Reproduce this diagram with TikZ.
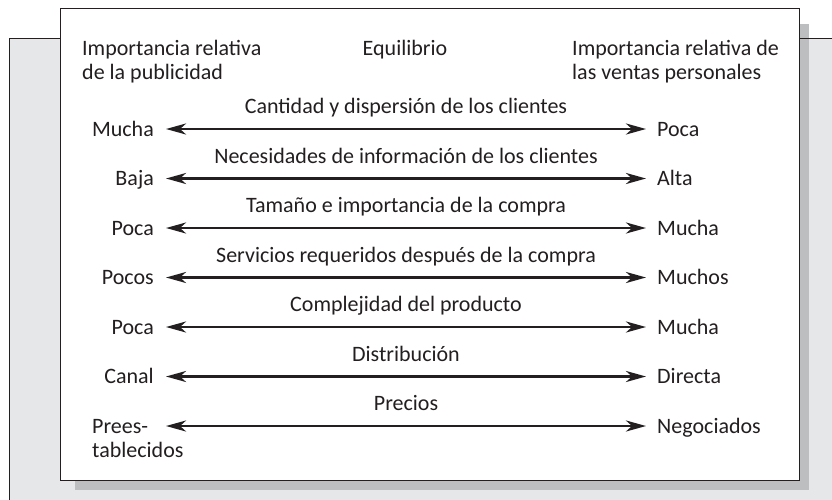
\documentclass[tikz,border=0pt]{standalone}
\usepackage{fontspec}
\setmainfont{Carlito}
\usetikzlibrary{arrows.meta,positioning}
\definecolor{myink}{RGB}{35,31,32}
\definecolor{mypanel}{RGB}{230,231,232}
\definecolor{myshade}{RGB}{188,190,192}

\tikzset{
    lbl/.style={inner sep=0pt, text height=16pt, text depth=2pt, text=myink, font=\fontsize{22}{24}\selectfont},
    hdr/.style={inner sep=0pt, align=left, text=myink, font=\fontsize{22}{24}\selectfont},
    twoway/.style={<->, >={Stealth[length=20pt, width=11pt, inset=6pt]}, line width=2.6pt, draw=myink}
}

\begin{document}
\begin{tikzpicture}[x=1pt, y=-1pt]

% Page frame.
\useasboundingbox (0,0) rectangle (832,499);
\clip (0,0) rectangle (832,499);

% Back panel, shadow and front box.
\fill[mypanel] (9.5,38.5) rectangle (850,520);
\fill[myshade] (75,24) rectangle (809,490);
\draw[myink, line width=1.5pt] (9.5,520) -- (9.5,38.5) -- (850,38.5);
\draw[myink, line width=1.5pt, fill=white] (60.5,8.5) rectangle (799.5,480.5);

% Headers (base = last line).
\node[hdr, anchor=base west] (pub) at (82,79) {Importancia relativa\\de la publicidad};
\node[hdr, anchor=base] (eq) at (405,55) {Equilibrio};
\node[hdr, anchor=base west] (vp) at (572,79) {Importancia relativa de\\las ventas personales};

% Arrow ends.
\coordinate (A1) at (166,129);   \coordinate (B1) at (646,129);
\coordinate (A2) at (166,178.5); \coordinate (B2) at (646,178.5);
\coordinate (A3) at (166,228);   \coordinate (B3) at (646,228);
\coordinate (A4) at (166,277.5); \coordinate (B4) at (646,277.5);
\coordinate (A5) at (166,327);   \coordinate (B5) at (646,327);
\coordinate (A6) at (166,376.5); \coordinate (B6) at (646,376.5);
\coordinate (A7) at (166,426);   \coordinate (B7) at (646,426);

% Rows.
\node[lbl, left=12pt of A1] (L1) {Mucha};
\node[lbl, right=11pt of B1] (R1) {Poca};
\draw[twoway] (A1) -- node[lbl, above=12pt] (T1) {Cantidad y dispersión de los clientes} (B1);

\node[lbl, left=12pt of A2] (L2) {Baja};
\node[lbl, right=11pt of B2] (R2) {Alta};
\draw[twoway] (A2) -- node[lbl, above=12pt] (T2) {Necesidades de información de los clientes} (B2);

\node[lbl, left=12pt of A3] (L3) {Poca};
\node[lbl, right=11pt of B3] (R3) {Mucha};
\draw[twoway] (A3) -- node[lbl, above=12pt] (T3) {Tamaño e importancia de la compra} (B3);

\node[lbl, left=12pt of A4] (L4) {Pocos};
\node[lbl, right=11pt of B4] (R4) {Muchos};
\draw[twoway] (A4) -- node[lbl, above=12pt] (T4) {Servicios requeridos después de la compra} (B4);

\node[lbl, left=12pt of A5] (L5) {Poca};
\node[lbl, right=11pt of B5] (R5) {Mucha};
\draw[twoway] (A5) -- node[lbl, above=12pt] (T5) {Complejidad del producto} (B5);

\node[lbl, left=12pt of A6] (L6) {Canal};
\node[lbl, right=11pt of B6] (R6) {Directa};
\draw[twoway] (A6) -- node[lbl, above=12pt] (T6) {Distribución} (B6);

\node[hdr, anchor=base west] (L7) at (92,457) {Prees-\\tablecidos};
\node[lbl, right=11pt of B7] (R7) {Negociados};
\draw[twoway] (A7) -- node[lbl, above=12pt] (T7) {Precios} (B7);

\end{tikzpicture}
\end{document}
